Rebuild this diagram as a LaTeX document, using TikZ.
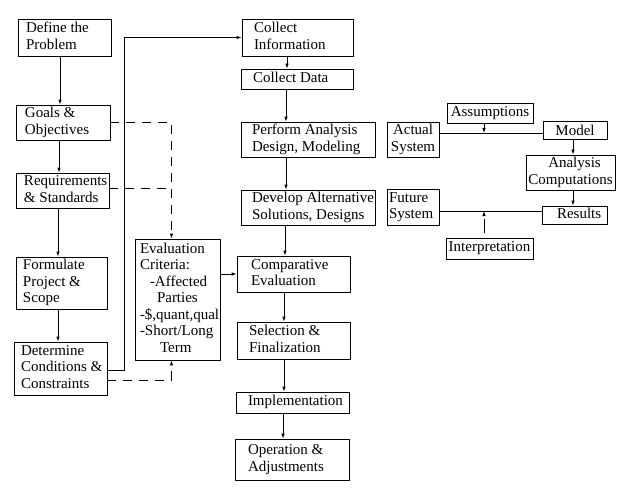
\documentclass[tikz,border=0pt]{standalone}
\usepackage{fontspec}
\setmainfont{Liberation Serif}
\usetikzlibrary{arrows.meta}
% left-padded text block: #1 padding, #2 box width, #3 lines
\newcommand\mylt[3]{\hbox to #2pt{\hspace*{#1pt}\begin{tabular}{@{}l@{}}#3\end{tabular}\hss}}
\begin{document}
\begin{tikzpicture}[x=1pt,y=-1pt,
  box/.style={draw, line width=0.8pt, inner xsep=0pt, inner ysep=0pt, font=\fontsize{15}{16.5}\selectfont},
  lbox/.style={box},
  cbox/.style={box, align=center},
  ln/.style={line width=0.8pt},
  arr/.style={line width=0.8pt, -{Latex[length=5pt,width=3.5pt]}},
  dsh/.style={line width=0.8pt, dash pattern=on 9pt off 7pt}]
\useasboundingbox (0,0) rectangle (634,488);

% left column
\node[lbox, minimum height=37pt] (def) at (64.5,37.5) {\mylt{8}{93}{Define the\\Problem}};
\node[lbox, minimum height=35pt] (goals) at (63,122.5) {\mylt{9}{94}{Goals \&\\Objectives}};
\node[lbox, minimum height=35pt] (req) at (62.5,190.5) {\mylt{8}{93}{Requirements\\\& Standards}};
\node[lbox, minimum height=52pt] (form) at (61.5,283) {\mylt{7}{91}{Formulate\\Project \&\\Scope}};
\node[lbox, minimum height=53pt] (det) at (60.5,368.5) {\mylt{7}{93}{Determine\\Conditions \&\\Constraints}};
\node[lbox, minimum height=121pt] (eval) at (177.5,299.5) {\mylt{5}{85}{Evaluation\\Criteria:\\\hspace*{10pt}-Affected\\\hspace*{17pt}Parties\\-\$,quant,qual\\-Short/Long\\\hspace*{20pt}Term}};

% middle column
\node[lbox, minimum height=37pt] (ci) at (297.5,37.5) {\mylt{12}{111}{Collect\\Information}};
\node[lbox, minimum height=20pt] (cd) at (297,79) {\mylt{12}{112}{Collect Data}};
\node[lbox, minimum height=35pt] (pa) at (308,139.5) {\mylt{11}{134}{Perform Analysis\\Design, Modeling}};
\node[lbox, minimum height=35pt] (da) at (308,207.5) {\mylt{11}{134}{Develop Alternative\\Solutions, Designs}};
\node[lbox, minimum height=36pt] (ce) at (293.5,274) {\mylt{14}{113}{Comparative\\Evaluation}};
\node[lbox, minimum height=37pt] (sf) at (293.5,340.5) {\mylt{12}{113}{Selection \&\\Finalization}};
\node[lbox, minimum height=21pt] (im) at (292.5,402.5) {\mylt{12}{113}{Implementation}};
\node[lbox, minimum height=41pt] (op) at (292,459.5) {\mylt{13}{114}{Operation \&\\Adjustments}};

% right cluster
\node[cbox, text width=86pt, minimum height=20pt] (as) at (490,113) {Assumptions};
\node[cbox, text width=52pt, minimum height=35pt] (act) at (413,139.5) {Actual\\System};
\node[cbox, text width=64pt, minimum height=18pt] (mod) at (575,130) {Model};
\node[cbox, text width=89pt, minimum height=35pt] (an) at (570.5,172.5) {\hspace*{8pt}Analysis\\Computations};
\node[lbox, minimum height=18pt] (res) at (574.5,215) {\mylt{15}{65}{Results}};
\node[lbox, minimum height=36pt] (fut) at (413,207) {\mylt{2}{52}{Future\\System}};
\node[cbox, text width=87pt, minimum height=21pt] (int) at (489.5,248.5) {Interpretation};

% left column arrows
\draw[arr] ([xshift=-4.5pt]def.south) -- ([xshift=-4.5pt]def.south |- goals.north);
\draw[arr] ([xshift=-4pt]goals.south) -- ([xshift=-4pt]goals.south |- req.north);
\draw[arr] ([xshift=-4.5pt]req.south) -- ([xshift=-4.5pt]req.south |- form.north);
\draw[arr] ([xshift=-3.5pt]form.south) -- ([xshift=-3.5pt]form.south |- det.north);

% middle column arrows
\draw[arr] ([xshift=-10.5pt]ci.south) -- ([xshift=-10.5pt]ci.south |- cd.north);
\draw[arr] ([xshift=-11pt]cd.south) -- ([xshift=-11pt]cd.south |- pa.north);
\draw[arr] ([xshift=-22pt]pa.south) -- ([xshift=-22pt]pa.south |- da.north);
\draw[arr] ([xshift=-23pt]da.south) -- ([xshift=-23pt]da.south |- ce.north);
\draw[arr] ([xshift=-9.5pt]ce.south) -- ([xshift=-9.5pt]ce.south |- sf.north);
\draw[arr] ([xshift=-9.5pt]sf.south) -- ([xshift=-9.5pt]sf.south |- im.north);
\draw[arr] ([xshift=-9.5pt]im.south) -- ([xshift=-9.5pt]im.south |- op.north);

% loop from constraints to collect information
\coordinate (lx) at (124,0);
\draw[arr] ([yshift=-1.5pt]det.east) -- ([yshift=-1.5pt]det.east -| lx) -- (lx |- ci.west) -- (ci.west);

% dashed links to evaluation criteria
\coordinate (dx) at (171.5,0);
\draw[dsh, -{Latex[length=5pt,width=3.5pt]}] (goals.east) -- (goals.east -| dx) -- (dx |- eval.north);
\draw[dsh] ([yshift=2.5pt]req.east) -- ([yshift=2.5pt]req.east -| dx);
\draw[dsh, -{Latex[length=5pt,width=3.5pt]}] ([yshift=-11.5pt]det.east) -- ([yshift=-11.5pt]det.east -| dx) -- (dx |- eval.south);
\draw[arr] (eval.east |- ce.west) -- (ce.west);

% right cluster connectors
\coordinate (j1) at (484,133);
\draw[ln] (act.east |- j1) -- (mod.west |- j1);
\draw[arr] (as.south -| j1) -- (j1);
\draw[arr] ([xshift=-2pt]mod.south) -- ([xshift=-2pt]mod.south |- an.north);
\draw[arr] ([xshift=2.5pt]an.south) -- ([xshift=2.5pt]an.south |- res.north);
\coordinate (j2) at (484,211);
\draw[ln] (fut.east |- j2) -- (res.west |- j2);
\draw[line width=0.8pt, dash pattern=on 0pt off 5pt on 14pt off 10pt, -{Latex[length=5pt,width=3.5pt]}] (int.north -| j2) -- (j2);
\end{tikzpicture}
\end{document}
